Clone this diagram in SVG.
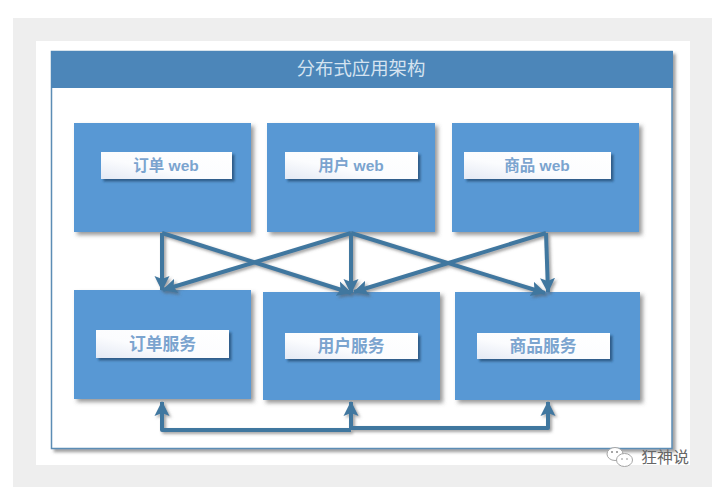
<svg xmlns="http://www.w3.org/2000/svg" width="717" height="497" viewBox="0 0 717 497">
  <style>
    text { font-family: "Liberation Sans", "Noto Sans CJK SC", sans-serif; text-anchor: middle; }
    .box { fill: #5898d4; filter: url(#boxShadow); }
    .tag { fill: url(#tagFill); filter: url(#tagShadow); }
    .tag-text { font-size: 15.5px; font-weight: 700; fill: #7ba4cf; }
    .tag-wide { font-size: 16.8px; }
    .title { font-size: 18.4px; fill: #d5e3f0; }
    .link { fill: none; stroke: #41779f; stroke-width: 4; stroke-linejoin: round; }
    .mark { font-size: 16px; fill: #666; }
    .bubble { fill: #fff; stroke: #a5a5a5; stroke-width: 1; }
    .eye { fill: #8a8a8a; }
  </style>
  <defs>
    <linearGradient id="tagFill" x1="0" y1="1" x2="1" y2="0">
      <stop offset="0" stop-color="#e4e9f4"/>
      <stop offset=".4" stop-color="#fbfcfe"/>
      <stop offset="1" stop-color="#ffffff"/>
    </linearGradient>
    <filter id="boxShadow" x="-10%" y="-10%" width="125%" height="125%">
      <feDropShadow dx="3" dy="3" stdDeviation="2" flood-color="#555" flood-opacity=".6"/>
    </filter>
    <filter id="tagShadow" x="-10%" y="-20%" width="125%" height="150%">
      <feDropShadow dx="2.5" dy="2.5" stdDeviation="1.3" flood-color="#234a70" flood-opacity=".75"/>
    </filter>
    <filter id="panelShadow" x="-5%" y="-5%" width="110%" height="110%">
      <feDropShadow dx="3" dy="3" stdDeviation="1.8" flood-color="#555" flood-opacity=".55"/>
    </filter>
    <filter id="lineShadow" x="-20%" y="-20%" width="140%" height="140%">
      <feDropShadow dx="2" dy="2" stdDeviation="1.8" flood-color="#555" flood-opacity=".55"/>
    </filter>
    <marker id="head" markerUnits="userSpaceOnUse" markerWidth="16" markerHeight="16" refX="14" refY="8" orient="auto">
      <path d="M0 0.500 L15 8 L0 15.500 L3 8 Z" fill="#41779f"/>
    </marker>
  </defs>

  <!-- page backdrop -->
  <rect x="13" y="18" width="699" height="469" fill="#eeeeee"/>
  <rect x="36" y="41" width="654" height="424" fill="#ffffff"/>

  <!-- outer panel -->
  <g id="panel">
    <rect x="51.500" y="51.500" width="620.500" height="397" fill="#fff" stroke="#5b8db5" stroke-width="1.500" filter="url(#panelShadow)"/>
    <rect x="51" y="51" width="622" height="37" fill="#4c86b9"/>
    <text class="title" x="361" y="75">分布式应用架构</text>
  </g>

  <!-- upper row -->
  <g id="order-web">
    <rect class="box" x="74" y="123" width="177" height="109"/>
    <rect class="tag" x="101" y="152" width="131" height="27"/>
    <text class="tag-text" x="166" y="171">订单 web</text>
  </g>
  <g id="user-web">
    <rect class="box" x="267" y="123" width="168" height="109"/>
    <rect class="tag" x="285" y="152" width="133" height="27"/>
    <text class="tag-text" x="351" y="171">用户 web</text>
  </g>
  <g id="goods-web">
    <rect class="box" x="452" y="123" width="187" height="109"/>
    <rect class="tag" x="464" y="152" width="147" height="27"/>
    <text class="tag-text" x="537" y="171">商品 web</text>
  </g>

  <!-- lower row -->
  <g id="order-service">
    <rect class="box" x="74" y="290" width="177" height="109"/>
    <rect class="tag" x="96" y="330" width="133" height="28"/>
    <text class="tag-text tag-wide" x="162.500" y="349.500">订单服务</text>
  </g>
  <g id="user-service">
    <rect class="box" x="263" y="292" width="177" height="108"/>
    <rect class="tag" x="285" y="333" width="133" height="26"/>
    <text class="tag-text tag-wide" x="351" y="351.500">用户服务</text>
  </g>
  <g id="goods-service">
    <rect class="box" x="455" y="292" width="185" height="108"/>
    <rect class="tag" x="477" y="333" width="133" height="26"/>
    <text class="tag-text tag-wide" x="543" y="351.500">商品服务</text>
  </g>

  <!-- connectors -->
  <g id="connectors" filter="url(#lineShadow)">
    <path class="link" d="M162 233 L162 290" marker-end="url(#head)"/>
    <path class="link" d="M162 233 L351 293" marker-end="url(#head)"/>
    <path class="link" d="M351 233 L163 290" marker-end="url(#head)"/>
    <path class="link" d="M351 233 L351 293" marker-end="url(#head)"/>
    <path class="link" d="M351 233 L545 293" marker-end="url(#head)"/>
    <path class="link" d="M546 233 L354 292" marker-end="url(#head)"/>
    <path class="link" d="M546 233 L548 292" marker-end="url(#head)"/>
    <path class="link" d="M351 430 L162 430 L162 402" marker-end="url(#head)"/>
    <path class="link" d="M351 430 L351 402" marker-end="url(#head)"/>
    <path class="link" d="M351 428 L548 428 L548 402" marker-end="url(#head)"/>
  </g>

  <!-- account badge -->
  <g id="account-badge">
    <ellipse class="bubble" cx="615" cy="454" rx="8" ry="6.500"/>
    <ellipse class="bubble" cx="624.500" cy="460" rx="8" ry="6.500"/>
    <circle class="eye" cx="612" cy="452" r="1"/>
    <circle class="eye" cx="617" cy="452" r="1"/>
    <circle class="eye" cx="622" cy="459" r=".8"/>
    <circle class="eye" cx="627" cy="459" r=".8"/>
    <text class="mark" x="665" y="463">狂神说</text>
  </g>
</svg>
